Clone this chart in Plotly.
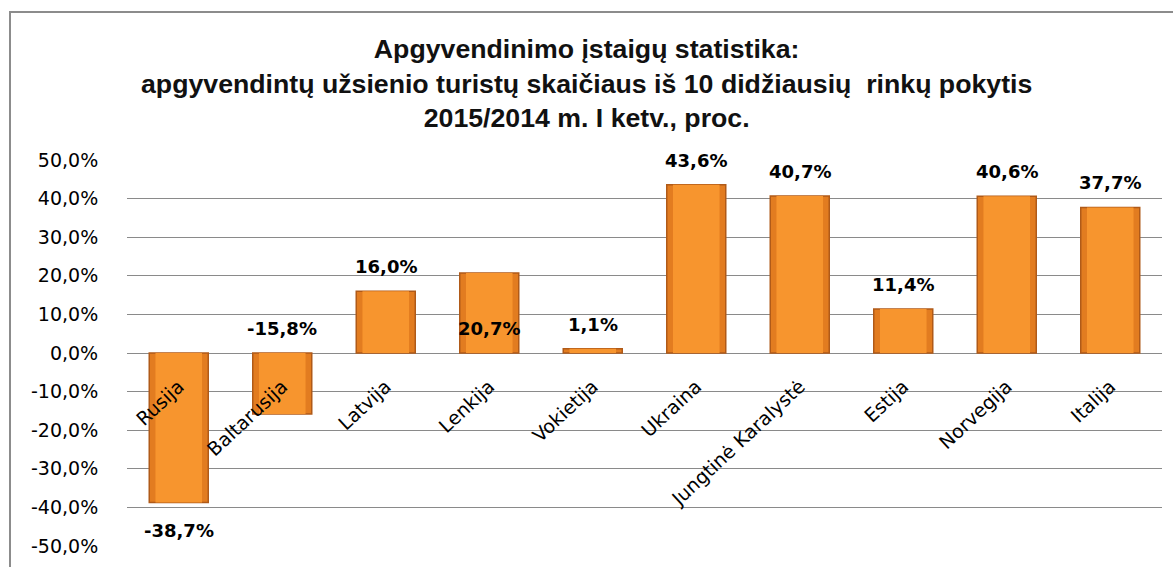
import plotly.graph_objects as go

categories = ["Rusija", "Baltarusija", "Latvija", "Lenkija", "Vokietija",
              "Ukraina", "Jungtinė Karalystė", "Estija", "Norvegija", "Italija"]
values = [-38.7, -15.8, 16.0, 20.7, 1.1, 43.6, 40.7, 11.4, 40.6, 37.7]
# value at which each data label is anchored (labels were moved in the original)
label_anchor = [-38.7, 0.0, 16.0, 0.0, 1.1, 43.6, 40.7, 11.4, 40.6, 37.7]
y_ticks = [-50, -40, -30, -20, -10, 0, 10, 20, 30, 40, 50]
title_lines = ["Apgyvendinimo įstaigų statistika:",
               "apgyvendintų užsienio turistų skaičiaus iš 10 didžiausių  rinkų pokytis",
               "2015/2014 m. I ketv., proc."]

def pct(v):
    return f"{v:.1f}".replace(".", ",") + "%"

W, H = 1173, 567
ML, MR, MT, MB = 127, 11, 160, 21
pw = W - ML - MR
ph = H - MT - MB

fig = go.Figure()
fig.add_trace(go.Bar(
    x=categories, y=values, width=0.57,
    marker=dict(color="#E27C20", line=dict(color="#B05A18", width=1.5)),
    hoverinfo="skip",
))
fig.add_trace(go.Bar(
    x=categories, y=values, width=0.45,
    marker=dict(color="#F7952E", line=dict(width=0)),
    hoverinfo="skip",
))

for c, v, a in zip(categories, values, label_anchor):
    below = a < 0
    fig.add_annotation(
        x=c, y=a, text=f"<b>{pct(v)}</b>", showarrow=False,
        yanchor="top" if below else "bottom",
        yshift=-16 if below else 12,
        font=dict(family="DejaVu Sans", size=18, color="#000000"),
    )

# title (three centered lines)
fig.add_annotation(
    xref="paper", yref="paper",
    x=(W / 2 - ML) / pw, y=(H - MB - 84) / ph,
    xanchor="center", yanchor="middle", showarrow=False,
    text="<b>" + "<br>".join(title_lines) + "</b>",
    font=dict(family="Liberation Sans Narrow, Arial Narrow, sans-serif", size=26.7, color="#111111"),
)

# outer chart border (visible on left and top only)
fig.add_shape(type="rect", xref="paper", yref="paper",
              x0=(10 - ML) / pw, x1=1.2, y0=-0.3, y1=(H - MB - 12) / ph,
              line=dict(color="#8C8C8C", width=2), fillcolor="rgba(0,0,0,0)")

fig.update_layout(
    width=W, height=H,
    margin=dict(l=ML, r=MR, t=MT, b=MB),
    paper_bgcolor="white", plot_bgcolor="white",
    barmode="overlay", showlegend=False,
    xaxis=dict(
        type="category", anchor="free", position=0.5,
        showline=False, showgrid=False, zeroline=False,
        ticks="outside", ticklen=14, tickcolor="rgba(0,0,0,0)",
        tickangle=-43,
        tickfont=dict(family="DejaVu Sans", size=19, color="#000000"),
    ),
    yaxis=dict(
        range=[-50, 50], tickvals=y_ticks, ticktext=[pct(t) for t in y_ticks],
        showgrid=True, gridcolor="#8A8A8A", gridwidth=1,
        zeroline=True, zerolinecolor="#8A8A8A", zerolinewidth=1,
        showline=False, ticks="outside", ticklen=24, tickcolor="rgba(0,0,0,0)",
        tickfont=dict(family="DejaVu Sans", size=19, color="#000000"),
    ),
)

fig.write_html("out.html", config={"displayModeBar": False},
               post_script="document.body.style.margin='0';")
